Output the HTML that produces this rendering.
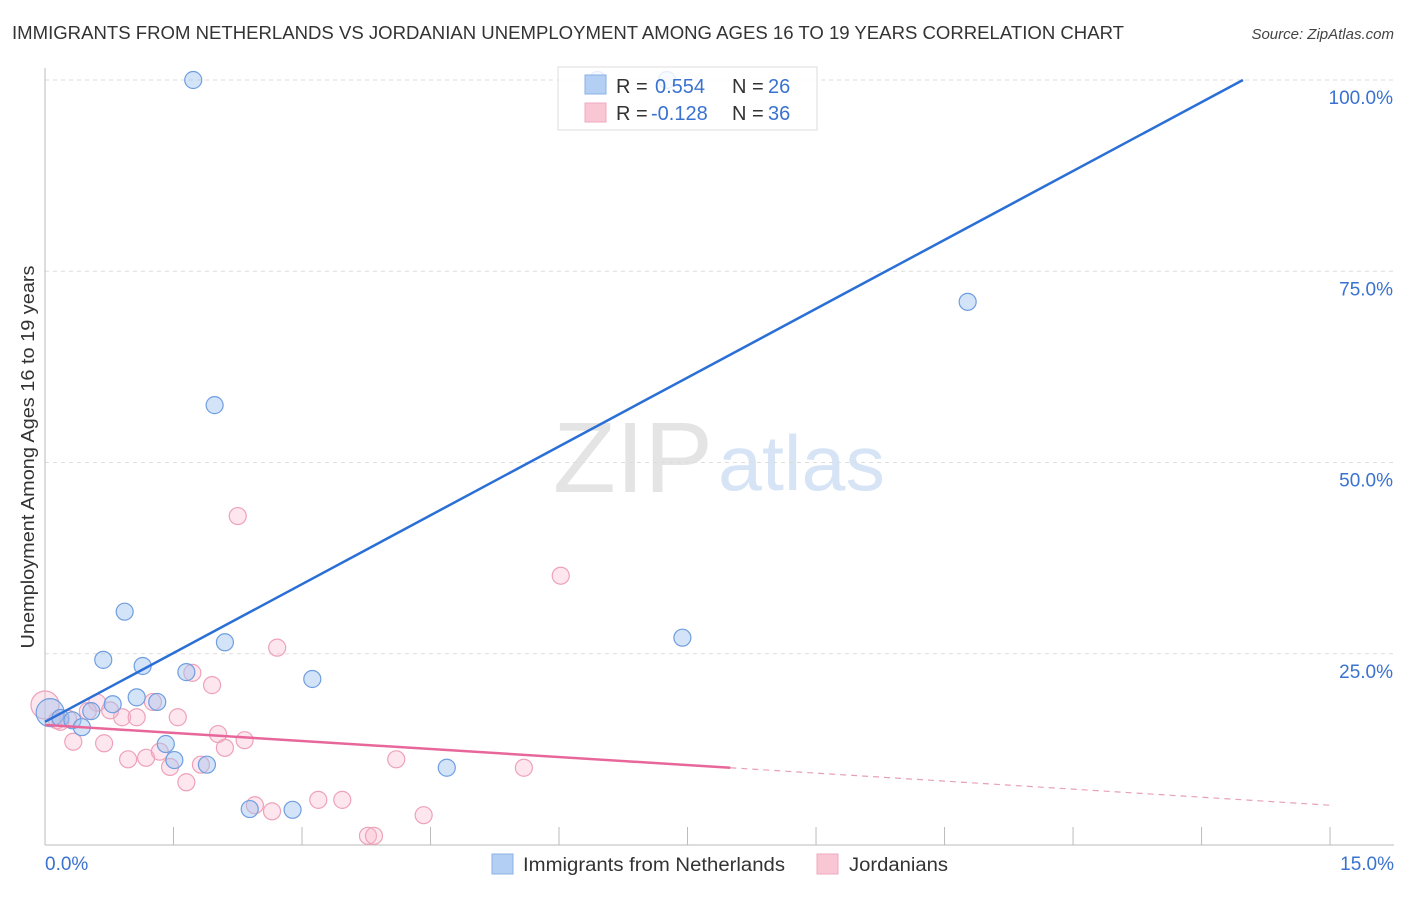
<!DOCTYPE html>
<html><head><meta charset="utf-8"><style>
body{margin:0;background:#fff;font-family:"Liberation Sans",sans-serif}
svg text{font-family:"Liberation Sans",sans-serif}
</style></head><body>
<svg id="chart" width="1406" height="892" xmlns="http://www.w3.org/2000/svg">
<text x="12" y="39" font-size="18" fill="#333" textLength="1112" lengthAdjust="spacingAndGlyphs">IMMIGRANTS FROM NETHERLANDS VS JORDANIAN UNEMPLOYMENT AMONG AGES 16 TO 19 YEARS CORRELATION CHART</text>
<text x="1394" y="39" font-size="15" fill="#444" text-anchor="end" font-style="italic">Source: ZipAtlas.com</text>
<text x="553" y="492" font-size="100" fill="#e4e4e4" font-family="Liberation Serif" textLength="160" lengthAdjust="spacingAndGlyphs">ZIP</text>
<text x="718" y="490" font-size="78" fill="#d6e4f6" textLength="167" lengthAdjust="spacingAndGlyphs">atlas</text>
<text transform="translate(34,457) rotate(-90)" font-size="18" fill="#333" text-anchor="middle" textLength="383" lengthAdjust="spacingAndGlyphs">Unemployment Among Ages 16 to 19 years</text>
<g id="grid"></g><g id="axes"></g><g id="pink"></g><g id="blue"></g><g id="lines"></g>
<g>
<rect x="558" y="67" width="259" height="63" fill="#fff" fill-opacity="0.82" stroke="#ddd"/>
<rect x="585" y="75" width="21" height="19" fill="#b4cff4" stroke="#8ab0e6"/>
<rect x="585" y="103" width="21" height="19" fill="#f9c6d4" stroke="#f0a9bf"/>
<text x="616" y="93" font-size="20" fill="#333">R = </text><text x="655" y="93" font-size="20" fill="#3a72d0">0.554</text>
<text x="732" y="93" font-size="20" fill="#333">N = </text><text x="768" y="93" font-size="20" fill="#3a72d0">26</text>
<text x="616" y="120" font-size="20" fill="#333">R = </text><text x="651" y="120" font-size="20" fill="#3a72d0">-0.128</text>
<text x="732" y="120" font-size="20" fill="#333">N = </text><text x="768" y="120" font-size="20" fill="#3a72d0">36</text>
</g>
<g>
<rect x="492" y="854" width="21" height="20" fill="#b4cff4" stroke="#8ab0e6"/>
<text x="523" y="871" font-size="19" fill="#333" textLength="262" lengthAdjust="spacingAndGlyphs">Immigrants from Netherlands</text>
<rect x="817" y="854" width="21" height="20" fill="#f9c6d4" stroke="#f0a9bf"/>
<text x="849" y="871" font-size="19" fill="#333" textLength="99" lengthAdjust="spacingAndGlyphs">Jordanians</text>
</g>
</svg>
<script>
const blueX=[1.73,6.45,7.26,1.98,10.77,0.93,0.68,1.14,2.10,1.65,3.12,7.44,1.07,0.79,1.31,0.54,0.06,0.18,0.32,0.43,1.41,1.51,1.89,4.69,2.39,2.89];
const blueY=[100,100,100,57.5,71.0,30.5,24.2,23.4,26.5,22.6,21.7,27.1,19.3,18.4,18.7,17.5,17.3,16.6,16.3,15.4,13.2,11.1,10.5,10.1,4.7,4.6];
const pinkX=[0.0,0.14,0.27,0.61,0.50,0.90,1.07,1.26,1.72,1.55,1.95,2.25,2.71,6.02,0.33,0.69,0.97,1.18,1.34,1.46,1.65,1.82,2.02,2.10,2.33,2.45,2.65,3.19,3.47,3.77,3.84,4.10,4.42,5.59,0.18,0.76];
const pinkY=[18.3,16.3,16.5,18.6,17.5,16.7,16.7,18.7,22.5,16.7,20.9,43.0,25.8,35.2,13.5,13.3,11.2,11.4,12.2,10.2,8.2,10.5,14.5,12.7,13.7,5.2,4.4,5.9,5.9,1.2,1.2,11.2,3.9,10.1,16.1,17.6];
const yTicks=[25,50,75,100];
const yTickLabels=["25.0%","50.0%","75.0%","100.0%"];
const xTicks=[0,1.5,3,4.5,6,7.5,9,10.5,12,13.5,15];
const blueTrend=[16.1,6.0];
const pinkTrend=[15.7,-0.7];
const pinkSolidEnd=8.0;
const NS="http://www.w3.org/2000/svg";
const xs=v=>45+v*85.67, ys=v=>845-v*7.65;
function mk(p,t,a){const e=document.createElementNS(NS,t);for(const k in a)e.setAttribute(k,a[k]);document.getElementById(p).appendChild(e);return e;}
yTicks.forEach((t,i)=>{
 const l=mk('grid','line',{x1:45,x2:1394,y1:ys(t),y2:ys(t),stroke:'#ddd','stroke-dasharray':'4,4'});
 
 
 const tx=mk('grid','text',{x:1393,y:ys(t)+24,'font-size':19,fill:'#3a72d0','text-anchor':'end'});
 tx.textContent=yTickLabels[i];
 
 
});
let ax=mk('axes','line',{x1:45,x2:45,y1:68,y2:845,stroke:'#bbb'});


ax=mk('axes','line',{x1:45,x2:1394,y1:845,y2:845,stroke:'#bbb'});


xTicks.forEach((t,i)=>{if(i==0)return;
 const l=mk('axes','line',{x1:xs(t),x2:xs(t),y1:827,y2:845,stroke:'#bbb'});
 
 
});
let t1=mk('axes','text',{x:45,y:870,'font-size':19,fill:'#3a72d0'});t1.textContent='0.0%';


t1=mk('axes','text',{x:1394,y:870,'font-size':19,fill:'#3a72d0','text-anchor':'end'});t1.textContent='15.0%';


function dots(g,X,Y,fill,stroke,name){X.forEach((x,i)=>{
 const r=(x<0.1)?14:8.5;
 const c=mk(g,'circle',{cx:xs(x),cy:ys(Y[i]),r:r,fill:fill,stroke:stroke,'stroke-width':1.2});
 
 
});}
dots('pink',pinkX,pinkY,'rgba(248,184,204,0.35)','#eea2ba','jordanians-point');
dots('blue',blueX,blueY,'rgba(160,196,240,0.45)','#6f9ee0','netherlands-point');
const bx2=(100-blueTrend[0])/blueTrend[1];
let ln=mk('lines','line',{x1:xs(0),y1:ys(blueTrend[0]),x2:xs(bx2),y2:ys(100),stroke:'#2a6fd6','stroke-width':2.5});


ln=mk('lines','line',{x1:xs(0),y1:ys(pinkTrend[0]),x2:xs(pinkSolidEnd),y2:ys(pinkTrend[0]+pinkTrend[1]*pinkSolidEnd),stroke:'#e8679a','stroke-width':2.5});


ln=mk('lines','line',{x1:xs(pinkSolidEnd),y1:ys(pinkTrend[0]+pinkTrend[1]*pinkSolidEnd),x2:xs(15),y2:ys(pinkTrend[0]+pinkTrend[1]*15),stroke:'#e8a0b8','stroke-width':1.2,'stroke-dasharray':'6,5'});


</script>
</body></html>
